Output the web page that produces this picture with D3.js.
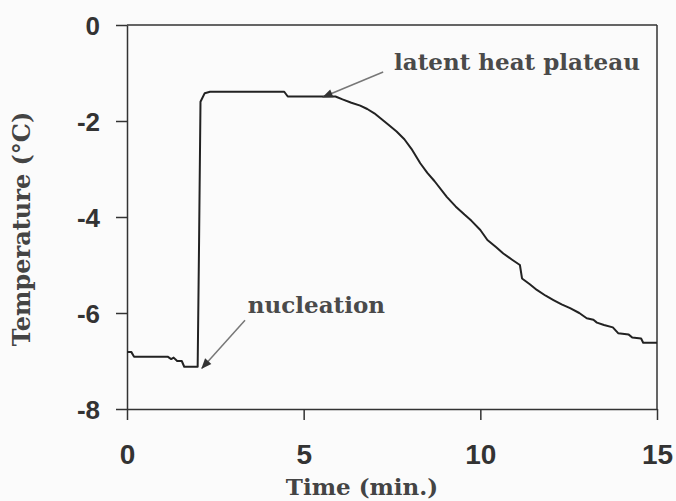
<!DOCTYPE html>
<html>
<head>
<meta charset="utf-8">
<script src="https://cdn.jsdelivr.net/npm/d3@7"></script>
<style>
	html, body { margin: 0; padding: 0; background: #fbfbfb; }
	svg { display: block; }
</style>
</head>
<body>
<div id="chart"></div>
<script>
// time (min.) and temperature (°C)
var times = [0, 0.12, 0.2, 1.15, 1.25, 1.32, 1.42, 1.55, 1.62, 2.0, 2.04, 2.08, 2.2, 2.35,
	4.45, 4.55, 5.9, 6.1, 6.35, 6.6, 6.8, 7.0, 7.2, 7.4, 7.63, 7.85, 8.05, 8.3, 8.5, 8.7,
	9.05, 9.3, 9.55, 9.75, 10.0, 10.2, 10.45, 10.65, 10.9, 11.12, 11.18, 11.4, 11.6, 11.85,
	12.07, 12.3, 12.54, 12.8, 13.01, 13.2, 13.3, 13.5, 13.75, 13.9, 14.2, 14.3, 14.55, 14.61, 15];
var temps = [-6.81, -6.81, -6.91, -6.91, -6.96, -6.93, -7.0, -7.0, -7.12, -7.12, -4.5, -1.6, -1.42, -1.39,
	-1.39, -1.49, -1.49, -1.55, -1.62, -1.68, -1.75, -1.84, -1.96, -2.08, -2.22, -2.38, -2.58, -2.88, -3.08, -3.25,
	-3.58, -3.78, -3.95, -4.08, -4.27, -4.48, -4.63, -4.76, -4.89, -5.0, -5.28, -5.4, -5.52, -5.64,
	-5.73, -5.82, -5.9, -6.0, -6.11, -6.14, -6.2, -6.25, -6.3, -6.42, -6.45, -6.51, -6.53, -6.62, -6.62];

var xTicks = [0, 5, 10, 15];
var yTicks = [0, -2, -4, -6, -8];

var xTitle = "Time (min.)";
var yTitle = "Temperature (°C)";

// annotations: label anchor, arrow start, arrow tip (data units)
var notes = [
	{ text: "latent heat plateau", at: [7.56, -0.94], from: [7.25, -0.98], to: [5.55, -1.5] },
	{ text: "nucleation", at: [3.42, -6.0], from: [3.34, -6.15], to: [2.12, -7.15] }
];

var width = 676, height = 501;
var margin = { top: 25, right: 19, bottom: 92, left: 127 };

var svg = d3.select("#chart").append("svg")
	.attr("width", width)
	.attr("height", height);

svg.append("defs").append("marker")
	.attr("id", "head")
	.attr("viewBox", "0 0 10 10")
	.attr("refX", 9)
	.attr("refY", 5)
	.attr("markerWidth", 9)
	.attr("markerHeight", 7)
	.attr("orient", "auto")
	.append("path")
	.attr("d", "M0,1 L10,5 L0,9 Z")
	.attr("fill", "#333");

var x = d3.scaleLinear().domain([0, 15]).range([margin.left, width - margin.right]);
var y = d3.scaleLinear().domain([-8, 0]).range([height - margin.bottom, margin.top]);

// frame lines on top and right
svg.append("line")
	.attr("x1", x(0)).attr("x2", x(15))
	.attr("y1", y(0)).attr("y2", y(0))
	.attr("stroke", "#333").attr("stroke-width", 1.5);
svg.append("line")
	.attr("x1", x(15)).attr("x2", x(15))
	.attr("y1", y(0)).attr("y2", y(-8))
	.attr("stroke", "#333").attr("stroke-width", 1.5);

// plain hyphen for negatives, as in the original
var plain = function(d) { return String(d); };

var yAxis = svg.append("g")
	.attr("transform", "translate(" + x(0) + ",0)")
	.call(d3.axisLeft(y).tickValues(yTicks).tickFormat(plain).tickSize(11).tickSizeOuter(0).tickPadding(16));

var xAxis = svg.append("g")
	.attr("transform", "translate(0," + y(-8) + ")")
	.call(d3.axisBottom(x).tickValues(xTicks).tickFormat(plain).tickSize(11).tickSizeOuter(0).tickPadding(24));

[yAxis, xAxis].forEach(function(g)
{
	g.selectAll("path, line").attr("stroke", "#333").attr("stroke-width", 1.5);
	g.selectAll("text")
		.attr("fill", "#333")
		.attr("font-family", "'Liberation Sans', Arial, sans-serif")
		.attr("font-weight", "bold");
});
yAxis.selectAll("text").attr("font-size", "26px").attr("dy", "0.36em");
xAxis.selectAll("text").attr("font-size", "28px").attr("dy", "0.72em");

svg.append("text")
	.text(xTitle)
	.attr("x", 362)
	.attr("y", 495)
	.attr("text-anchor", "middle")
	.attr("font-family", "'DejaVu Serif', serif")
	.attr("font-weight", "bold")
	.attr("font-size", "23px")
	.attr("fill", "#444");

svg.append("text")
	.text(yTitle)
	.attr("transform", "translate(30," + 229 + ") rotate(-90)")
	.attr("text-anchor", "middle")
	.attr("font-family", "'DejaVu Serif', serif")
	.attr("font-weight", "bold")
	.attr("font-size", "24px")
	.attr("fill", "#444");

var points = times.map(function(t, i) { return [t, temps[i]]; });

var line = d3.line()
	.x(function(d) { return x(d[0]); })
	.y(function(d) { return y(d[1]); });

svg.append("path")
	.datum(points)
	.attr("d", line)
	.attr("fill", "none")
	.attr("stroke", "#222")
	.attr("stroke-width", 2)
	.attr("stroke-linejoin", "round");

var noteGroups = svg.selectAll("g.note").data(notes).enter().append("g").classed("note", 1);

noteGroups.append("line")
	.attr("x1", function(d) { return x(d.from[0]); })
	.attr("y1", function(d) { return y(d.from[1]); })
	.attr("x2", function(d) { return x(d.to[0]); })
	.attr("y2", function(d) { return y(d.to[1]); })
	.attr("stroke", "#777")
	.attr("stroke-width", 1.5)
	.attr("marker-end", "url(#head)");

noteGroups.append("text")
	.text(function(d) { return d.text; })
	.attr("x", function(d) { return x(d.at[0]); })
	.attr("y", function(d) { return y(d.at[1]); })
	.attr("font-family", "'DejaVu Serif', serif")
	.attr("font-weight", "bold")
	.attr("font-size", "23px")
	.attr("fill", "#4a4a4a");
</script>
</body>
</html>
